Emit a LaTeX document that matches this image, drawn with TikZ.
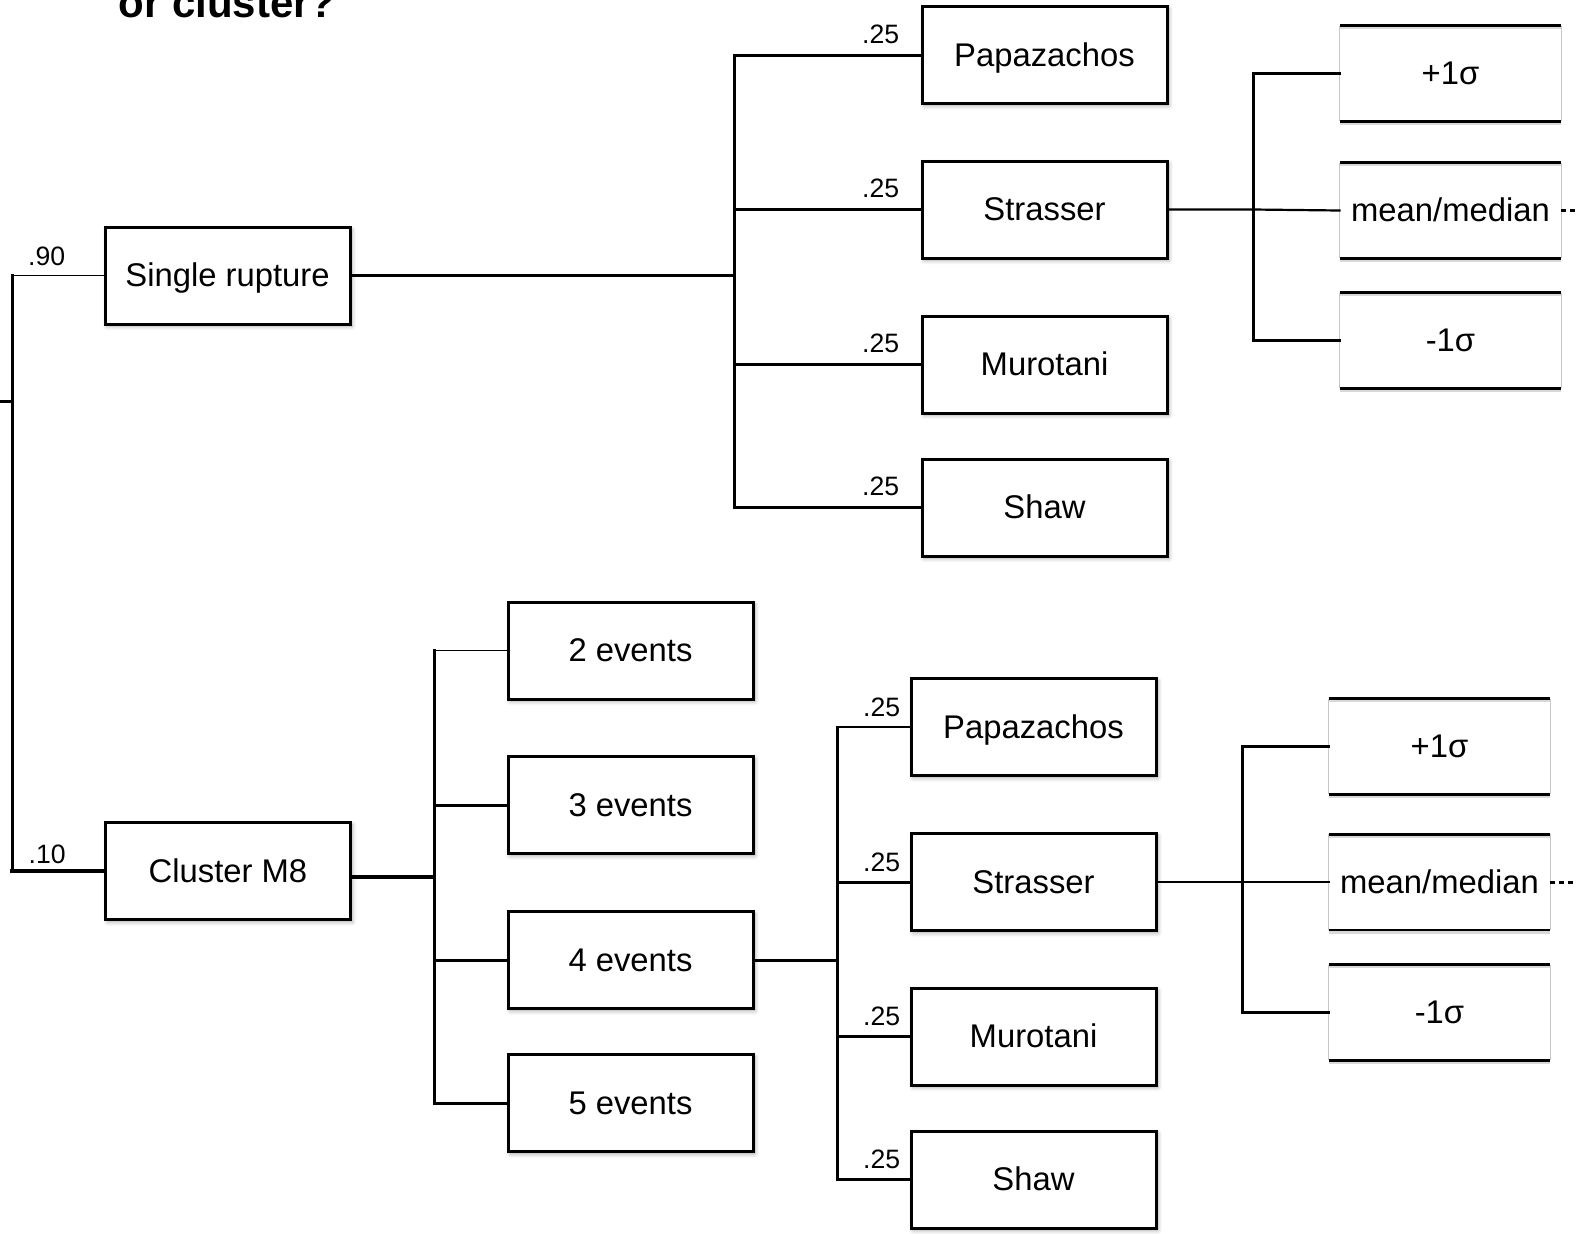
\documentclass[tikz,border=0pt]{standalone}
\usepackage{fontspec}
\setmainfont{Liberation Sans}
\usetikzlibrary{shadows.blur}

\begin{document}
\begin{tikzpicture}[x=0.5pt,y=-0.5pt,
  boxtext/.style={inner sep=0pt, text height=14.6pt, text depth=3.2pt,
    font=\fontsize{16.4}{19}\selectfont},
  box/.style={boxtext, draw, line width=1.5pt, fill=white, minimum width=122.5pt,
    minimum height=48.5pt,
    blur shadow={shadow xshift=1pt, shadow yshift=-1.2pt,
      shadow blur radius=2pt, shadow opacity=35}},
  sigbox/.style={boxtext, fill=white, minimum width=110.5pt, minimum height=47.5pt},
  sigedge/.style={line width=1.4pt},
  sigside/.style={line width=0.7pt, draw=black!22},
  sigshade/.style={line width=1.2pt, draw=black!15},
  link/.style={line width=1.5pt, line cap=rect},
  thinlink/.style={line width=0.8pt, line cap=rect},
  heavylink/.style={line width=2pt, line cap=rect},
  dotlink/.style={line width=1.5pt, dash pattern=on 2.5pt off 2pt},
  prob/.style={anchor=base east, inner sep=0pt, font=\fontsize{13.3}{15}\selectfont},
  ]
\useasboundingbox (0,0) rectangle (1576,1233);
\clip (0,0) rectangle (1576,1233);

% heading (runs off the top edge)
\node[anchor=base west, inner sep=0pt, font=\bfseries\fontsize{21}{25}\selectfont]
  (title) at (118,17) {or cluster?};

% ---------- level 1 ----------
\node[box] (sr) at (227.5,275.5) {Single rupture};
\node[box] (cm) at (228,871) {Cluster M8};

% ---------- single rupture branch ----------
\node[box] (tp1) at (1044.5,55)    {Papazachos};
\node[box] (tp2) at (1044.5,209.5) {Strasser};
\node[box] (tp3) at (1044.5,364.5) {Murotani};
\node[box] (tp4) at (1044.5,507.5) {Shaw};

\node[sigbox] (ts1) at (1450.5,73.5)  {+1σ};
\node[sigbox] (ts2) at (1450.5,210.5) {mean/median};
\node[sigbox] (ts3) at (1450.5,340.5) {-1σ};

% ---------- cluster branch ----------
\node[box] (e2) at (630.5,650.5) {2 events};
\node[box] (e3) at (630.5,805)   {3 events};
\node[box] (e4) at (630.5,960)   {4 events};
\node[box] (e5) at (630.5,1103)  {5 events};

\node[box] (bp1) at (1033.5,727)    {Papazachos};
\node[box] (bp2) at (1033.5,882)    {Strasser};
\node[box] (bp3) at (1033.5,1036.5) {Murotani};
\node[box] (bp4) at (1033.5,1179.5) {Shaw};

\node[sigbox] (bs1) at (1439.5,746.5)  {+1σ};
\node[sigbox] (bs2) at (1439.5,882)    {mean/median};
\node[sigbox] (bs3) at (1439.5,1012.5) {-1σ};

% sigma boxes: ruled above and below only
\foreach \s in {ts1,ts2,ts3,bs1,bs2,bs3}{
  \draw[sigside] (\s.north west) -- (\s.south west);
  \draw[sigside] (\s.north east) -- (\s.south east);
  \draw[sigshade] ([yshift=-1.3pt]\s.north west) -- ([yshift=-1.3pt]\s.north east);
  \draw[sigshade] ([yshift=-1.3pt]\s.south west) -- ([yshift=-1.3pt]\s.south east);
  \draw[sigedge] (\s.north west) -- (\s.north east);
  \draw[sigedge] (\s.south west) -- (\s.south east);
}

% ---------- junction points ----------
\coordinate (rs) at (0,401);
\coordinate (rj) at (12,401);
\coordinate (j1) at (734,275.5);
\coordinate (j2) at (1253,209.5);
\coordinate (j3) at (434,877);
\coordinate (j4) at (837,960);
\coordinate (j5) at (1242,882);
\coordinate (d1) at (1576,210.5);
\coordinate (d2) at (1576,882);

% root
\draw[link] (rs) -- (rj);
\draw[link] (sr.west -| rj) -- (cm.west -| rj);
\draw[thinlink] (sr.west -| rj) -- (sr.west);
\draw[heavylink] (cm.west -| rj) -- (cm.west);
\node[prob] (p90) at ([xshift=-19pt,yshift=4.8pt]sr.west) {.90};
\node[prob] (p10) at ([xshift=-19pt,yshift=4pt]cm.west) {.10};

% single rupture -> scaling relations
\draw[link] (sr.east) -- (j1);
\draw[link] (j1 |- tp1.west) -- (j1 |- tp4.west);
\foreach \t/\n in {tp1/a1,tp2/a2,tp3/a3,tp4/a4}{
  \draw[link] (j1 |- \t.west) -- (\t.west);
  \node[prob] (\n) at ([xshift=-10.5pt,yshift=5.8pt]\t.west) {.25};
}

% Strasser -> sigma branches
\draw[thinlink, line width=1.1pt] (tp2.east) -- (j2) -- (ts2.west);
\draw[link] (j2 |- ts1.west) -- (j2 |- ts3.west);
\draw[link] (j2 |- ts1.west) -- (ts1.west);
\draw[link] (j2 |- ts3.west) -- (ts3.west);
\draw[dotlink] (ts2.east) -- (d1);

% cluster -> number of events
\draw[heavylink] ([yshift=-3pt]cm.east) -- (j3);
\draw[link] (j3 |- e2.west) -- (j3 |- e5.west);
\draw[thinlink] (j3 |- e2.west) -- (e2.west);
\draw[link] (j3 |- e3.west) -- (e3.west);
\draw[link] (j3 |- e4.west) -- (e4.west);
\draw[link] (j3 |- e5.west) -- (e5.west);

% 4 events -> scaling relations
\draw[link] (e4.east) -- (j4);
\draw[link] (j4 |- bp1.west) -- (j4 |- bp4.west);
\draw[thinlink] (j4 |- bp1.west) -- (bp1.west);
\draw[link] (j4 |- bp2.west) -- (bp2.west);
\draw[link] (j4 |- bp3.west) -- (bp3.west);
\draw[link] (j4 |- bp4.west) -- (bp4.west);
\foreach \t/\n in {bp1/b1,bp2/b2,bp3/b3,bp4/b4}{
  \node[prob] (\n) at ([xshift=-4.5pt,yshift=5.5pt]\t.west) {.25};
}

% Strasser -> sigma branches
\draw[thinlink, line width=1.1pt] (bp2.east) -- (j5) -- (bs2.west);
\draw[link] (j5 |- bs1.west) -- (j5 |- bs3.west);
\draw[link] (j5 |- bs1.west) -- (bs1.west);
\draw[link] (j5 |- bs3.west) -- (bs3.west);
\draw[dotlink] (bs2.east) -- (d2);
\end{tikzpicture}
\end{document}
